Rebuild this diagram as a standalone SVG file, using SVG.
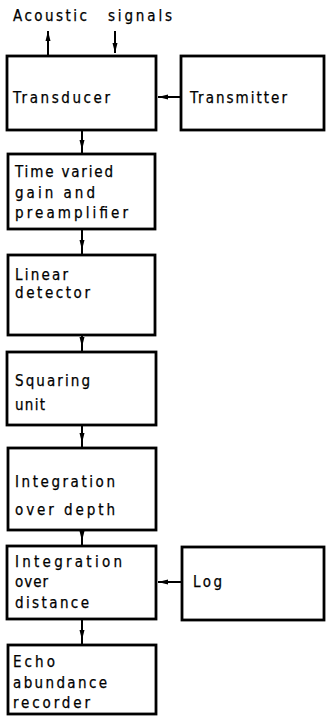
<svg xmlns="http://www.w3.org/2000/svg" width="326" height="717" viewBox="0 0 326 717">
  <style>
    .box { fill: #fff; stroke: #000; stroke-width: 2.8; }
    .lbl { font-family: "DejaVu Sans Condensed", "DejaVu Sans", "Liberation Sans", sans-serif; font-size: 15px; fill: #000; stroke: #000; stroke-width: 0.25; }
    .wire { fill: none; stroke: #000; stroke-width: 2; }
  </style>
  <defs>
    <marker id="head" viewBox="0 0 10 6" refX="10" refY="3" markerWidth="10" markerHeight="6" markerUnits="userSpaceOnUse" orient="auto">
      <path d="M0,0.5 L10,3 L0,5.5 Z" fill="#000"/>
    </marker>
  </defs>
  <rect width="326" height="717" fill="#fff"/>

  <text class="lbl" x="13" y="21" textLength="74" lengthAdjust="spacing">Acoustic</text>
  <text class="lbl" x="108" y="21" textLength="64" lengthAdjust="spacing">signals</text>

  <g id="connectors">
    <path class="wire" d="M48 56 L48 31" marker-end="url(#head)"/>
    <path class="wire" d="M115 31 L115 53" marker-end="url(#head)"/>
    <path class="wire" d="M181 97 L158 97" marker-end="url(#head)"/>
    <path class="wire" d="M182 582 L158 582" marker-end="url(#head)"/>
    <path class="wire" d="M82 130 L82 150 L82 154" marker-mid="url(#head)"/>
    <path class="wire" d="M82 229 L82 250 L82 255" marker-mid="url(#head)"/>
    <path class="wire" d="M82 335 L82 347 L82 352" marker-mid="url(#head)"/>
    <path class="wire" d="M82 425 L82 443 L82 448" marker-mid="url(#head)"/>
    <path class="wire" d="M82 530 L82 541 L82 546" marker-mid="url(#head)"/>
    <path class="wire" d="M82 619 L82 640 L82 645" marker-mid="url(#head)"/>
  </g>

  <g id="transducer">
    <rect class="box" x="7" y="56" width="149" height="74"/>
    <text class="lbl" x="13" y="103" textLength="97" lengthAdjust="spacing">Transducer</text>
  </g>
  <g id="transmitter">
    <rect class="box" x="181" y="56" width="143" height="74"/>
    <text class="lbl" x="190" y="103" textLength="97" lengthAdjust="spacing">Transmitter</text>
  </g>
  <g id="gain">
    <rect class="box" x="8" y="154" width="147" height="75"/>
    <text class="lbl" x="15" y="177" textLength="98" lengthAdjust="spacing">Time varied</text>
    <text class="lbl" x="15" y="198" textLength="80" lengthAdjust="spacing">gain and</text>
    <text class="lbl" x="15" y="218" textLength="113" lengthAdjust="spacing">preamplifier</text>
  </g>
  <g id="detector">
    <rect class="box" x="8" y="255" width="147" height="80"/>
    <text class="lbl" x="15" y="280" textLength="53" lengthAdjust="spacing">Linear</text>
    <text class="lbl" x="15" y="298" textLength="75" lengthAdjust="spacing">detector</text>
  </g>
  <g id="squaring">
    <rect class="box" x="7" y="352" width="149" height="73"/>
    <text class="lbl" x="15" y="386" textLength="75" lengthAdjust="spacing">Squaring</text>
    <text class="lbl" x="15" y="410" textLength="30" lengthAdjust="spacing">unit</text>
  </g>
  <g id="depth">
    <rect class="box" x="8" y="448" width="148" height="82"/>
    <text class="lbl" x="15" y="487" textLength="100" lengthAdjust="spacing">Integration</text>
    <text class="lbl" x="15" y="515" textLength="100" lengthAdjust="spacing">over depth</text>
  </g>
  <g id="distance">
    <rect class="box" x="7" y="546" width="149" height="73"/>
    <text class="lbl" x="15" y="567" textLength="107" lengthAdjust="spacing">Integration</text>
    <text class="lbl" x="15" y="587" textLength="33" lengthAdjust="spacing">over</text>
    <text class="lbl" x="15" y="608" textLength="74" lengthAdjust="spacing">distance</text>
  </g>
  <g id="log">
    <rect class="box" x="182" y="547" width="142" height="73"/>
    <text class="lbl" x="193" y="587" textLength="29" lengthAdjust="spacing">Log</text>
  </g>
  <g id="recorder">
    <rect class="box" x="8" y="645" width="148" height="69"/>
    <text class="lbl" x="13" y="667" textLength="42" lengthAdjust="spacing">Echo</text>
    <text class="lbl" x="13" y="688" textLength="94" lengthAdjust="spacing">abundance</text>
    <text class="lbl" x="13" y="708" textLength="77" lengthAdjust="spacing">recorder</text>
  </g>
</svg>
